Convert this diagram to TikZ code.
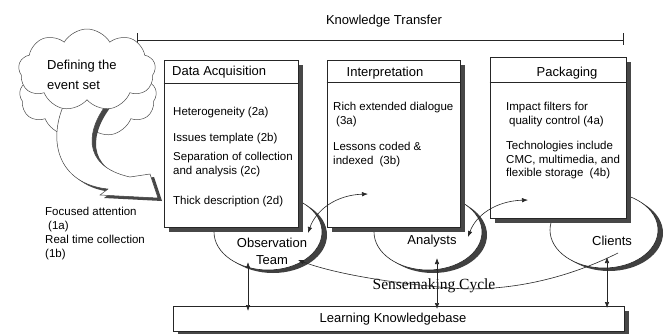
\documentclass[tikz,border=0pt]{standalone}
\usepackage{fontspec}
\setmainfont{Liberation Sans}
\newfontfamily\serifface{Liberation Serif}
\usetikzlibrary{shapes.geometric,shapes.symbols,shadows,arrows.meta,calc}
\newcommand{\cloudarrowpath}{(110,100) .. controls (86,128) and (80,166) .. (130,177) -- (150,174) -- (158,198) -- (100,195) -- (108,189) .. controls (58,184) and (46,140) .. (66,100) -- cycle}
\begin{document}
\begin{tikzpicture}[x=1pt,y=-1pt,
  boxstyle/.style={rectangle, draw=black!85, fill=white, line width=0.6pt, inner sep=0pt,
    general shadow={fill=black!72, shadow xshift=5pt, shadow yshift=-5pt}},
  teamstyle/.style={ellipse, draw=black!85, fill=white, line width=0.6pt, inner sep=0pt,
    minimum width=108pt, minimum height=76pt,
    general shadow={fill=black!75, shadow xshift=5pt, shadow yshift=-3pt}},
  cloudstyle/.style={cloud, cloud puffs=9, cloud puff arc=120, aspect=1.8, draw=black!70,
    fill=white, line width=0.5pt, minimum width=137pt, minimum height=82pt, inner sep=0pt},
  bodytext/.style={anchor=west, align=left, inner sep=0pt, font=\fontsize{11.5}{14}\selectfont},
  headtext/.style={inner sep=0pt, font=\fontsize{13}{15}\selectfont},
  conn/.style={line width=0.6pt, draw=black!85},
  dbl/.style={conn, {Latex[length=6pt,width=4.5pt]}-{Latex[length=6pt,width=4.5pt]}},
  single/.style={conn, -{Latex[length=6pt,width=4.5pt]}}
]
\useasboundingbox (0,0) rectangle (666,333);
\fill[white] (0,0) rectangle (666,333);

% Knowledge transfer bar
\node[headtext] (kt) at (384,21) {Knowledge Transfer};
\coordinate (ktL) at (137,40);
\coordinate (ktR) at (623,40);
\draw[conn] (ktL) -- (ktR);
\draw[conn] ($(ktL)+(0,-7)$) -- ($(ktL)+(0,7)$);
\draw[conn] ($(ktR)+(0,-7)$) -- ($(ktR)+(0,5)$);

% clouds and block arrow
\node[cloudstyle] (cloudback) at (88,96) {};
\begin{scope}[shift={(4,3)}]
  \fill[black!72] \cloudarrowpath;
\end{scope}
\draw[fill=white, draw=black!75, line width=0.5pt] \cloudarrowpath;
\node[cloudstyle] (cloud) at (87,70) {};
\node[headtext, anchor=west, align=left, font=\fontsize{13}{19.5}\selectfont] (deftext) at (47,75) {Defining the\\event set};

% team ellipses
\node[teamstyle] (obs) at (268,232) {};
\node[teamstyle] (ana) at (428,232) {};
\node[teamstyle] (cli) at (604,230) {};

% boxes
\node[boxstyle, minimum width=134pt, minimum height=167pt] (da) at (231,143.5) {};
\node[boxstyle, minimum width=133pt, minimum height=167pt] (ip) at (393.5,143.5) {};
\node[boxstyle, minimum width=136pt, minimum height=161pt] (pk) at (558,137.5) {};
\node[boxstyle, minimum width=451pt, minimum height=25pt] (kb) at (398.5,318.5) {};

\draw[conn] ($(da.north west)+(0,24)$) -- ($(da.north east)+(0,24)$);
\draw[conn] ($(ip.north west)+(0,23)$) -- ($(ip.north east)+(0,23)$);
\draw[conn] ($(pk.north west)+(0,26)$) -- ($(pk.north east)+(0,26)$);

% headers
\node[headtext, anchor=west] (dah) at (172,72) {Data Acquisition};
\node[headtext] (iph) at (385,73) {Interpretation};
\node[headtext] (pkh) at (567,73) {Packaging};

% box bodies
\node[bodytext] (d2a) at (173,113) {Heterogeneity (2a)};
\node[bodytext] (d2b) at (173,139) {Issues template (2b)};
\node[bodytext] (d2c) at (173,165) {Separation of collection\\and analysis (2c)};
\node[bodytext] (d2d) at (173,202) {Thick description (2d)};

\node[bodytext] (i3a) at (333,115) {Rich extended dialogue\\\hspace{3pt}(3a)};
\node[bodytext] (i3b) at (333,155) {Lessons coded \&\\indexed\hspace{3pt} (3b)};

\node[bodytext] (p4a) at (506,115) {Impact filters for\\\hspace{3pt}quality control (4a)};
\node[bodytext, font=\fontsize{11.5}{13.5}\selectfont] (p4b) at (506,160.5) {Technologies include\\CMC, multimedia, and\\flexible storage\hspace{3pt} (4b)};

% left notes
\node[bodytext] (n1a) at (45,220) {Focused attention\\\hspace{3pt}(1a)};
\node[bodytext] (n1b) at (45,248) {Real time collection\\(1b)};

% team labels
\node[headtext, align=center, font=\fontsize{13}{17}\selectfont] (obst) at (272,251) {Observation\\Team};
\node[headtext] (anat) at (432,241) {Analysts};
\node[headtext] (clit) at (612,241) {Clients};

\node[headtext] (kbt) at (393,319) {Learning Knowledgebase};

% sensemaking
\node[inner sep=0pt, font=\serifface\fontsize{15.5}{17}\selectfont] (sense) at (434,286) {Sensemaking Cycle};
\coordinate (scS) at (618,253);
\coordinate (scE) at (298,260);
\draw[single] (scS) .. controls (560,282) and (500,292) .. (450,288) .. controls (380,282) and (330,272) .. (scE);

% curved double arrows
\coordinate (obsB) at (308,233);
\coordinate (ipA) at (368,194);
\draw[dbl] (obsB) .. controls (316,210) and (336,195) .. (ipA);
\coordinate (anaB) at (468,237);
\coordinate (pkA) at (528,200);
\draw[dbl] (anaB) .. controls (476,215) and (496,201) .. (pkA);

% vertical arrows
\coordinate (obsV) at (248,262);
\coordinate (kbO) at (248,311);
\draw[dbl] (obsV) -- (kbO);
\coordinate (anaV) at (437,258);
\coordinate (kbA) at (437,309);
\draw[dbl] (anaV) -- (kbA);
\coordinate (cliV) at (607,257);
\coordinate (kbC) at (607,308);
\draw[dbl] (cliV) -- (kbC);
\end{tikzpicture}
\end{document}
